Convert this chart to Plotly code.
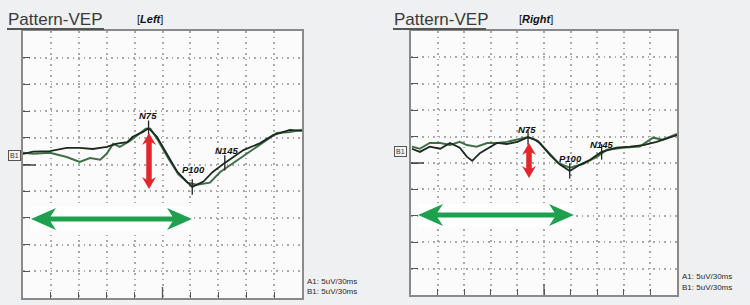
import plotly.graph_objects as go

W, H = 750, 305

# ---------------- data (time in ms, amplitude in µV relative to baseline) -------------
t_left_a = [0, 11, 29, 47, 61, 75, 90, 101, 112, 118, 129, 135, 144, 155, 166, 176, 182,
            194, 204, 217, 237, 255, 269, 287, 300]
v_left_a = [0.2, 0.6, 0.7, 1.3, 1.3, 1.1, 1.5, 2.1, 2.4, 3.4, 4.3, 5.0, 3.4, 0.0, -3.2, -5.0, -6.0,
            -5.0, -3.2, -1.5, 0.9, 2.2, 3.7, 4.7, 4.5]
t_left_b = [0, 11, 29, 47, 61, 72, 83, 90, 97, 104, 115, 126, 132, 137, 145, 156, 167, 177,
            187, 201, 212, 223, 244, 262, 273, 287, 300]
v_left_b = [0.4, 0.2, 0.4, -0.4, -1.3, -0.6, -0.9, 0.2, 2.1, 1.5, 2.6, 4.1, 4.9, 4.9, 2.8, -0.6,
            -3.6, -5.2, -5.6, -5.2, -3.2, -1.9, 0.6, 2.8, 4.1, 4.3, 4.7]

t_right_a = [1, 10, 21, 33, 44, 55, 63, 69, 78, 86, 97, 108, 120, 132, 140, 145, 157, 168, 179,
             191, 202, 215, 232, 247, 262, 277, 292, 300]
v_right_a = [0.4, -0.2, 0.8, 0.4, 1.5, 0.6, -1.1, -1.9, -0.4, 0.4, 1.5, 1.3, 1.7, 2.6, 2.1, 1.5,
             -0.8, -2.6, -3.8, -2.6, -1.7, -0.2, 0.6, 0.8, 1.1, 1.7, 2.5, 3.0]
t_right_b = [1, 10, 21, 33, 44, 55, 63, 74, 86, 97, 108, 120, 132, 143, 154, 166, 179, 194, 210,
             221, 239, 258, 273, 284, 300]
v_right_b = [0.8, 0.4, 1.5, 1.5, 1.1, 1.7, 1.1, 0.8, 1.5, 1.5, 1.7, 2.1, 2.6, 1.9, -0.2, -2.3,
             -3.2, -2.5, -1.1, 0.2, 0.6, 0.8, 2.5, 2.1, 3.2]

peak_labels = ["N75", "P100", "N145"]
peak_t_left = [135, 182, 217]
peak_v_left = [5.0, -6.0, -1.5]
peak_t_right = [132, 179, 215]
peak_v_right = [2.6, -3.8, -0.2]

scale_text = ["A1: 5uV/30ms", "B1: 5uV/30ms"]
x_grid = [30, 60, 90, 120, 150, 180, 210, 240, 270]

# ---------------- helpers ------------------------------------------------------------
def px(x):
    return x / W


def py(y):
    return 1 - y / H


def poly(points):
    return "M" + " L".join(f"{px(x):.5f},{py(y):.5f}" for x, y in points) + " Z"


def h_arrow(x0, x1, y, w, hl, hw):
    n = hl * 0.78
    pts = [(x0, y), (x0 + hl, y - hw / 2), (x0 + n, y - w / 2), (x1 - n, y - w / 2),
           (x1 - hl, y - hw / 2), (x1, y), (x1 - hl, y + hw / 2), (x1 - n, y + w / 2),
           (x0 + n, y + w / 2), (x0 + hl, y + hw / 2)]
    return poly(pts)


def v_arrow(x, y0, y1, w, hl, hw):
    n = hl * 0.8
    pts = [(x, y0), (x + hw / 2, y0 + hl), (x + w / 2, y0 + n), (x + w / 2, y1 - n),
           (x + hw / 2, y1 - hl), (x, y1), (x - hw / 2, y1 - hl), (x - w / 2, y1 - n),
           (x - w / 2, y0 + n), (x - hw / 2, y0 + hl)]
    return poly(pts)


DARK = "#1b2a1e"
GREEN = "#3f6e47"
GRID = "#a9a9a9"
FRAME = "#8a8a8a"
FONT = "Liberation Sans, Arial, sans-serif"

fig = go.Figure()

for (ta, va, tb, vb, pt, pv, xa, ya) in [
    (t_left_a, v_left_a, t_left_b, v_left_b, peak_t_left, peak_v_left, "x", "y"),
    (t_right_a, v_right_a, t_right_b, v_right_b, peak_t_right, peak_v_right, "x2", "y2"),
]:
    fig.add_trace(go.Scatter(x=tb, y=vb, mode="lines", line=dict(color=GREEN, width=2),
                             xaxis=xa, yaxis=ya, showlegend=False, hoverinfo="skip"))
    fig.add_trace(go.Scatter(x=ta, y=va, mode="lines", line=dict(color=DARK, width=1.8),
                             xaxis=xa, yaxis=ya, showlegend=False, hoverinfo="skip"))
    fig.add_trace(go.Scatter(x=pt, y=pv, mode="markers",
                             marker=dict(symbol="line-ns", size=11, line=dict(width=1.3, color="#222")),
                             xaxis=xa, yaxis=ya, showlegend=False, hoverinfo="skip"))

GRIDDASH = "1.5px,4px"


def xaxis_cfg(x0, x1, anchor):
    return dict(domain=[px(x0), px(x1)], range=[0, 300], tickvals=x_grid, ticks="inside",
                ticklen=6, tickcolor="#555", tickwidth=1.2, showticklabels=False,
                showgrid=True, gridcolor=GRID, griddash=GRIDDASH, gridwidth=1.5,
                showline=True, mirror=True, linecolor=FRAME, linewidth=1.5, zeroline=False,
                anchor=anchor)


def yaxis_cfg(y_top, y_bot, lo, hi, anchor):
    tv = [lo + 5 * k for k in range(1, 10)]
    return dict(domain=[py(y_bot), py(y_top)], range=[lo, hi], tickvals=tv, ticks="inside",
                ticklen=7, tickcolor="#555", tickwidth=1.2, showticklabels=False,
                showgrid=True, gridcolor=GRID, griddash=GRIDDASH, gridwidth=1.5,
                showline=True, mirror=True, linecolor=FRAME, linewidth=1.5, zeroline=False,
                anchor=anchor)


shapes = []
annotations = []

panels = [
    dict(box=(23, 302, 31, 298), side="Left", tx=7, tw=97, sx=135, base=155,
         bx=14, band=(31, 192, 207, 231), garrow=(31, 192, 219), rarrow=(149, 133, 189),
         lab=[(148, 116), (193, 170), (227, 150)], scale=(305, 281, 291), tick_y=165),
    dict(box=(411, 677, 31, 295), side="Right", tx=393, tw=93, sx=517, base=151,
         bx=401, band=(418, 574, 204, 227), garrow=(418, 574, 215), rarrow=(529, 143, 178),
         lab=[(527, 129), (570, 158), (601, 144)], scale=(680, 276, 287), tick_y=163),
]

for p in panels:
    x0, x1, y0, y1 = p["box"]
    # title
    annotations.append(dict(x=px(p["tx"] - 1), y=py(20), xref="paper", yref="paper", xanchor="left",
                            yanchor="middle", showarrow=False, text="Pattern-VEP",
                            font=dict(family=FONT, size=17, color="#3a3a3a")))
    shapes.append(dict(type="line", xref="paper", yref="paper", x0=px(p["tx"]), x1=px(p["tx"] + p["tw"]),
                       y0=py(29), y1=py(29), line=dict(color="#555", width=2)))
    annotations.append(dict(x=px(p["sx"]), y=py(19), xref="paper", yref="paper", xanchor="left",
                            yanchor="middle", showarrow=False,
                            text=f"[<b><i>{p['side']}</i></b>]",
                            font=dict(family=FONT, size=11, color="#111")))
    # B1 box
    annotations.append(dict(x=px(p["bx"]), y=py(p["base"]), xref="paper", yref="paper",
                            xanchor="center", yanchor="middle",
                            showarrow=False, text="B1", font=dict(family=FONT, size=7, color="#333"),
                            bordercolor="#555", borderwidth=1, borderpad=1, bgcolor="#f4f4f4"))
    # longer ticks
    mid = (x0 + x1) / 2
    shapes.append(dict(type="line", xref="paper", yref="paper", x0=px(mid), x1=px(mid),
                       y0=py(y1), y1=py(y1 - 11), line=dict(color="#555", width=1.3)))
    shapes.append(dict(type="line", xref="paper", yref="paper", x0=px(x0), x1=px(x0 + 13),
                       y0=py(p["tick_y"]), y1=py(p["tick_y"]), line=dict(color="#444", width=1.5)))
    # scale text
    sx, sy1, sy2 = p["scale"]
    for txt, yy in zip(scale_text, (sy1, sy2)):
        annotations.append(dict(x=px(sx), y=py(yy), xref="paper", yref="paper", xanchor="left",
                                yanchor="middle", showarrow=False, text=txt,
                                font=dict(family=FONT, size=8, color="#2a2a2a")))
    # peak labels
    for lab, (lx, ly) in zip(peak_labels, p["lab"]):
        annotations.append(dict(x=px(lx), y=py(ly), xref="paper", yref="paper", showarrow=False,
                                xanchor="center", yanchor="middle",
                                text=f"<b><i>{lab}</i></b>",
                                font=dict(family=FONT, size=9.5, color="#111")))
    # white band + green arrow
    bx0, bx1, by0, by1 = p["band"]
    shapes.append(dict(type="rect", xref="paper", yref="paper", x0=px(bx0), x1=px(bx1),
                       y0=py(by1), y1=py(by0), fillcolor="#ffffff", line=dict(width=0)))
    gx0, gx1, gy = p["garrow"]
    shapes.append(dict(type="path", xref="paper", yref="paper", path=h_arrow(gx0, gx1, gy, 5, 25, 22),
                       fillcolor="#1fa04f", line=dict(width=0)))
    rx, ry0, ry1 = p["rarrow"]
    shapes.append(dict(type="path", xref="paper", yref="paper", path=v_arrow(rx, ry0, ry1, 5.5, 12, 14),
                       fillcolor="#e3262c", line=dict(width=0)))

fig.update_layout(
    width=W, height=H, margin=dict(l=0, r=0, t=0, b=0),
    paper_bgcolor="#eff0f1", plot_bgcolor="#fbfbfb",
    xaxis=xaxis_cfg(23, 302, "y"), yaxis=yaxis_cfg(31, 298, -26.8, 23.2, "x"),
    xaxis2=xaxis_cfg(411, 677, "y2"), yaxis2=yaxis_cfg(31, 295, -27.3, 22.7, "x2"),
    shapes=shapes, annotations=annotations, showlegend=False,
)

fig.write_html("out.html")
